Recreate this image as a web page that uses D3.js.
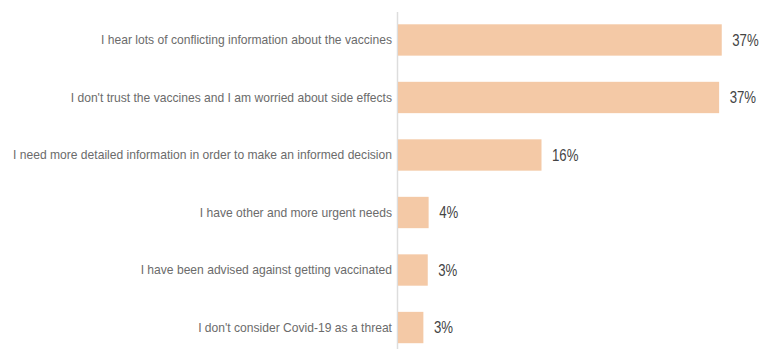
<!DOCTYPE html>
<html><head><meta charset="utf-8">
<script src="https://cdn.jsdelivr.net/npm/d3@7"></script>
<style>body{margin:0;background:#fff}svg{display:block}</style>
</head><body>
<svg id="c" width="762" height="349"></svg>
<script>
const categories = [
  "I hear lots of conflicting information about the vaccines",
  "I don't trust the vaccines and I am worried about side effects",
  "I need more detailed information in order to make an informed decision",
  "I have other and more urgent needs",
  "I have been advised against getting vaccinated",
  "I don't consider Covid-19 as a threat"
];
const values = [37.0, 36.7, 16.4, 3.5, 3.4, 2.9];

const svg = d3.select("#c");
const font = "'Liberation Sans',Arial,sans-serif";
const x = d3.scaleLinear().domain([0, 40]).range([398, 748]);
const y = d3.scaleBand().domain(categories).range([10.5, 357]).paddingInner(0.455).paddingOuter(0.24);

svg.append("line").attr("x1", 397.5).attr("x2", 397.5).attr("y1", 12).attr("y2", 349)
  .attr("stroke", "#dddddd").attr("stroke-width", 1.5);

const data = categories.map((c, i) => ({c, v: values[i]}));

svg.selectAll("rect.bar").data(data).join("rect").attr("class", "bar")
  .attr("x", x(0)).attr("y", d => y(d.c)).attr("width", d => x(d.v) - x(0))
  .attr("height", y.bandwidth()).attr("fill", "#f4c9a6");

const cats = svg.selectAll("text.cat").data(data).join("text").attr("class", "cat")
  .attr("x", 392).attr("y", d => y(d.c) + y.bandwidth() / 2).attr("dy", "0.35em")
  .attr("text-anchor", "end").attr("font-family", font).attr("font-size", 12.8)
  .attr("fill", "#6b6b6b").text(d => d.c);

// emulate a condensed face: compress so the longest label spans ~379px
let maxW = 0;
cats.each(function() { maxW = Math.max(maxW, this.getComputedTextLength()); });
const k = 379 / maxW;
cats.each(function() {
  const w = this.getComputedTextLength();
  d3.select(this).attr("textLength", w * k).attr("lengthAdjust", "spacingAndGlyphs");
});

const vals = svg.selectAll("text.val").data(data).join("text").attr("class", "val")
  .attr("x", d => x(d.v) + 10.5).attr("y", d => y(d.c) + y.bandwidth() / 2).attr("dy", "0.35em")
  .attr("font-family", font).attr("font-size", 16.5)
  .attr("fill", "#444").text(d => Math.round(d.v) + "%");
vals.each(function() {
  const w = this.getComputedTextLength();
  d3.select(this).attr("textLength", w * 0.8).attr("lengthAdjust", "spacingAndGlyphs");
});
</script>
</body></html>
